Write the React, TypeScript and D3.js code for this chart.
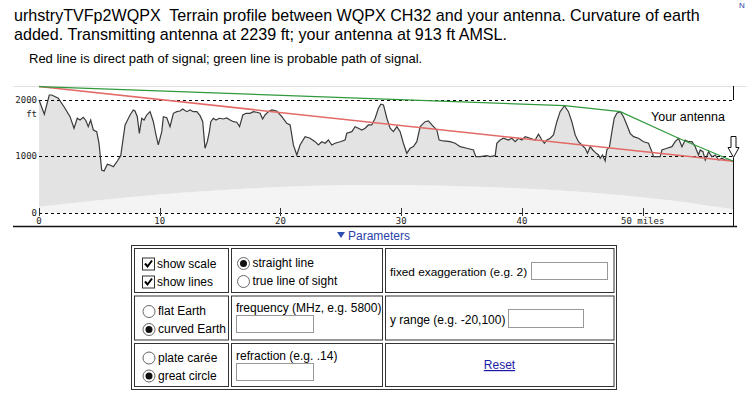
import React from 'react';
import * as d3 from 'd3';

// terrain profile as plotted (earth curvature already added)
const terrainMiles = [0, 0.44, 0.85, 1.05, 1.6, 2.15, 2.57, 2.9, 3.17, 3.4, 3.67, 3.89, 4.08, 4.28, 4.5, 4.78, 4.97, 5.19, 5.39, 5.66, 5.88, 6.16, 6.49, 6.77, 7.13, 7.54, 7.81, 7.95, 8.14, 8.31, 8.51, 8.7, 8.92, 9.2, 9.47, 9.69, 9.88, 10.17, 10.3, 10.58, 10.85, 11.13, 11.41, 11.68, 11.91, 12.24, 12.51, 12.78, 13.07, 13.34, 13.56, 13.75, 13.94, 14.11, 14.23, 14.44, 14.66, 14.94, 15.27, 15.55, 15.82, 16.1, 16.38, 16.61, 16.88, 17.15, 17.48, 17.75, 18.04, 18.31, 18.52, 18.72, 19.0, 19.28, 19.69, 20.11, 20.52, 20.8, 21.07, 21.35, 21.62, 22.04, 22.45, 22.87, 23.14, 23.42, 23.7, 23.97, 24.25, 24.52, 24.94, 25.35, 25.49, 25.91, 26.18, 26.45, 26.74, 27.01, 27.28, 27.56, 27.84, 28.11, 28.31, 28.53, 28.81, 29.08, 29.35, 29.64, 29.91, 30.18, 30.46, 30.74, 31.01, 31.29, 31.57, 31.98, 32.25, 32.54, 32.95, 33.14, 33.5, 34.05, 34.47, 34.88, 35.43, 35.98, 36.18, 36.54, 37.09, 37.37, 37.78, 37.92, 38.19, 38.47, 38.88, 39.16, 39.44, 39.71, 39.99, 40.27, 40.68, 41.09, 41.37, 41.65, 41.86, 42.06, 42.34, 42.61, 42.89, 43.16, 43.52, 43.85, 44.13, 44.41, 44.68, 44.96, 45.24, 45.43, 45.65, 45.87, 46.15, 46.34, 46.48, 46.67, 46.89, 47.03, 47.25, 47.45, 47.64, 47.86, 48.14, 48.41, 48.69, 48.96, 49.24, 49.65, 50.07, 50.48, 50.76, 50.9, 51.18, 51.45, 51.59, 52.01, 52.42, 52.69, 52.97, 53.25, 53.52, 53.79, 54.08, 54.35, 54.62, 54.76, 54.99, 55.18, 55.45, 55.73, 56.01, 56.28, 56.56, 56.84, 57.11, 57.52];
const terrainFeet = [2000, 1747, 2089, 2089, 2031, 1853, 1704, 1498, 1676, 1645, 1693, 1633, 1527, 1645, 1468, 1438, 1232, 758, 740, 859, 847, 817, 918, 1012, 1557, 1734, 1823, 1805, 1704, 1409, 1676, 1645, 1734, 1793, 1615, 1379, 1202, 1438, 1704, 1686, 1527, 1764, 1793, 1805, 1841, 1793, 1823, 1793, 1793, 1722, 1615, 1143, 1260, 1438, 1615, 1676, 1645, 1676, 1663, 1681, 1645, 1615, 1605, 1527, 1734, 1764, 1764, 1793, 1782, 1764, 1663, 1734, 1793, 1823, 1805, 1704, 1587, 1557, 1202, 1024, 1202, 1349, 1321, 1260, 1202, 1260, 1232, 1290, 1202, 1232, 1260, 1290, 1409, 1438, 1527, 1498, 1468, 1498, 1557, 1557, 1676, 1853, 1924, 1912, 1676, 1498, 1438, 1527, 1438, 1232, 1054, 1143, 1172, 1260, 1527, 1615, 1628, 1557, 1468, 1290, 1273, 1260, 1232, 1172, 1143, 1113, 994, 994, 1012, 994, 1012, 1232, 1290, 1321, 1290, 1321, 1260, 1321, 1290, 1349, 1321, 1290, 1392, 1290, 1232, 1290, 1321, 1379, 1615, 1793, 1899, 1793, 1615, 1379, 1260, 1202, 1143, 1054, 1172, 1113, 1054, 1024, 966, 1024, 918, 1113, 1172, 1438, 1676, 1764, 1793, 1704, 1557, 1409, 1349, 1321, 1260, 1232, 1083, 994, 994, 994, 1113, 1143, 1172, 1260, 1321, 1172, 1290, 1260, 1260, 1172, 1024, 1113, 1083, 935, 1083, 994, 1024, 935, 966, 935, 935, 913];

// earth bulge under the terrain
const bulgeMiles = [0, 10, 20, 28.75, 40, 50, 57.52];
const bulgeFeet = [105, 325, 455, 490, 430, 275, 60];

// red: direct path, green: probable path
const directMiles = [0, 57.52];
const directFeet = [2239, 913];
const probableMiles = [0, 43.52, 48.14, 52.97, 57.52];
const probableFeet = [2239, 1899, 1793, 1321, 913];

const gridFeet = [0, 1000, 2000];
const yLabels = ['0', '1000', '2000'];
const xTicks = [0, 10, 20, 30, 40, 50];
const xLabels = ['0', '10', '20', '30', '40', '50 miles'];

const sans = 'Liberation Sans, Arial, sans-serif';
const mono = 'DejaVu Sans Mono, monospace';

function CheckBox({ x, y, label }: { x: number; y: number; label: string }) {
  return (
    <g>
      <rect x={x + 0.5} y={y - 5.5} width={12} height={12} fill="#fff" stroke="#333" />
      <path d={`M${x + 3},${y} L${x + 5.5},${y + 3} L${x + 10},${y - 3}`} fill="none" stroke="#000" strokeWidth={2} />
      <text x={x + 15} y={y + 4} fontSize={12} fontFamily={sans}>{label}</text>
    </g>
  );
}

function Radio({ x, y, label, on }: { x: number; y: number; label: string; on?: boolean }) {
  return (
    <g>
      <circle cx={x + 6} cy={y + 0.5} r={6} fill="#fff" stroke="#666" />
      {on && <circle cx={x + 6} cy={y + 0.5} r={3.5} fill="#111" />}
      <text x={x + 15} y={y + 4} fontSize={12} fontFamily={sans}>{label}</text>
    </g>
  );
}

export default function App() {
  const x = d3.scaleLinear().domain([0, 57.52]).range([39, 733.5]);
  const y = d3.scaleLinear().domain([0, 2000]).range([212.7, 100]);

  const terrain = terrainMiles.map((m, i) => [m, terrainFeet[i]] as [number, number]);
  const bulge = bulgeMiles.map((m, i) => [m, bulgeFeet[i]] as [number, number]);

  const line = d3.line<[number, number]>().x(d => x(d[0])).y(d => y(d[1]));
  const curved = d3.line<[number, number]>().x(d => x(d[0])).y(d => y(d[1])).curve(d3.curveNatural);

  const terrainPath = line(terrain) || '';
  const bulgeBack = (curved([...bulge].reverse()) || '').slice(1);
  const fillPath = terrainPath + 'L' + bulgeBack + 'Z';

  const under = d3.area<[number, number]>()
    .x(d => x(d[0]))
    .y0(y(0))
    .y1(d => y(d[1]))
    .curve(d3.curveNatural)(bulge) || '';

  const direct = line(directMiles.map((m, i) => [m, directFeet[i]] as [number, number])) || '';
  const probable = line(probableMiles.map((m, i) => [m, probableFeet[i]] as [number, number])) || '';

  const xr = x(57.52);

  return (
    <div style={{ position: 'absolute', left: 0, top: 0 }}>
      <svg width={747} height={397} style={{ display: 'block' }}>
        <rect width={747} height={397} fill="#fff" />

        <text x={14} y={21} fontSize={16.1} fontFamily={sans}>urhstryTVFp2WQPX&#160; Terrain profile between WQPX CH32 and your antenna. Curvature of earth</text>
        <text x={14} y={40} fontSize={16.1} fontFamily={sans}>added. Transmitting antenna at 2239 ft; your antenna at 913 ft AMSL.</text>
        <text x={29} y={63} fontSize={13} fontFamily={sans}>Red line is direct path of signal; green line is probable path of signal.</text>
        <text x={739} y={8} fontSize={8} fontFamily={sans} fill="#2a3fb0">N</text>

        {/* chart */}
        <line x1={13} x2={747} y1={86.5} y2={86.5} stroke="#e2e2e2" />
        <path d={under} fill="#f4f4f4" />
        <path d={fillPath} fill="#e3e3e3" />

        {gridFeet.map(f => (
          <line key={f} x1={x(0)} x2={xr} y1={Math.round(y(f)) + 0.5} y2={Math.round(y(f)) + 0.5}
            stroke="#000" strokeDasharray="3,3" />
        ))}

        <path d={terrainPath} fill="none" stroke="#3a3a3a" strokeWidth={1.2} />
        <path d={direct} fill="none" stroke="#e26a66" strokeWidth={1.5} />
        <path d={probable} fill="none" stroke="#2f9a3c" strokeWidth={1.2} />

        {gridFeet.map((f, i) => (
          <text key={f} x={37} y={y(f) + 3} textAnchor="end" fontSize={9} fontFamily={mono} fill="#222">{yLabels[i]}</text>
        ))}
        <text x={37} y={117} textAnchor="end" fontSize={9} fontFamily={mono} fill="#222">ft</text>

        {xTicks.map((t, i) => (
          <g key={t}>
            <line x1={Math.round(x(t)) + 0.5} x2={Math.round(x(t)) + 0.5} y1={208} y2={216} stroke="#333" />
            <text x={x(t)} y={224} textAnchor="middle" fontSize={9} fontFamily={mono} fill="#222">{xLabels[i]}</text>
          </g>
        ))}

        <line x1={13} x2={737} y1={226.5} y2={226.5} stroke="#111" strokeWidth={1.5} />
        <line x1={xr} x2={xr} y1={86} y2={100} stroke="#111" />
        <line x1={xr} x2={xr} y1={158} y2={226} stroke="#111" />

        <text x={651} y={121} fontSize={12.5} fontFamily={sans}>Your antenna</text>
        <path d={`M${xr - 2.5},136.5 h5 v11 h3 l-5.5,10 l-5.5,-10 h3 Z`} fill="#fff" stroke="#111" />

        {/* parameters form */}
        <path d="M337,232 h8 l-4,6 Z" fill="#2a4fb0" />
        <text x={348} y={240} fontSize={12} fontFamily={sans} fill="#2a3fa8">Parameters</text>

        <rect x={131.5} y={245.5} width={485} height={144} fill="#fff" stroke="#333" />
        {[[134.5, 228.5], [231.5, 382.5], [385.5, 614]].map(([a, b]) =>
          [[248.5, 292.5], [296, 340], [343.5, 386.5]].map(([c, d]) => (
            <rect key={`${a}-${c}`} x={a} y={c} width={b - a} height={d - c} fill="none" stroke="#333" />
          ))
        )}

        <CheckBox x={142} y={263.5} label="show scale" />
        <CheckBox x={142} y={281.5} label="show lines" />
        <Radio x={237.5} y={263} label="straight line" on />
        <Radio x={237.5} y={281} label="true line of sight" />
        <text x={390} y={276} fontSize={11.8} fontFamily={sans}>fixed exaggeration (e.g. 2)</text>
        <rect x={531.5} y={262.5} width={76} height={17} fill="#fff" stroke="#999" />

        <Radio x={143} y={311} label="flat Earth" />
        <Radio x={143} y={329} label="curved Earth" on />
        <text x={236} y={312} fontSize={12} fontFamily={sans}>frequency (MHz, e.g. 5800)</text>
        <rect x={236.5} y={315.5} width={77} height={17} fill="#fff" stroke="#999" />
        <text x={390} y={323.5} fontSize={12} fontFamily={sans}>y range (e.g. -20,100)</text>
        <rect x={508.5} y={309.5} width={75} height={18} fill="#fff" stroke="#999" />

        <Radio x={143} y={357.5} label="plate carée" />
        <Radio x={143} y={375.5} label="great circle" on />
        <text x={236} y={360} fontSize={12} fontFamily={sans}>refraction (e.g. .14)</text>
        <rect x={236.5} y={363.5} width={77} height={17} fill="#fff" stroke="#999" />
        <text x={499.5} y={369} textAnchor="middle" fontSize={12} fontFamily={sans} fill="#1a1aa6" textDecoration="underline">Reset</text>
      </svg>
    </div>
  );
}
